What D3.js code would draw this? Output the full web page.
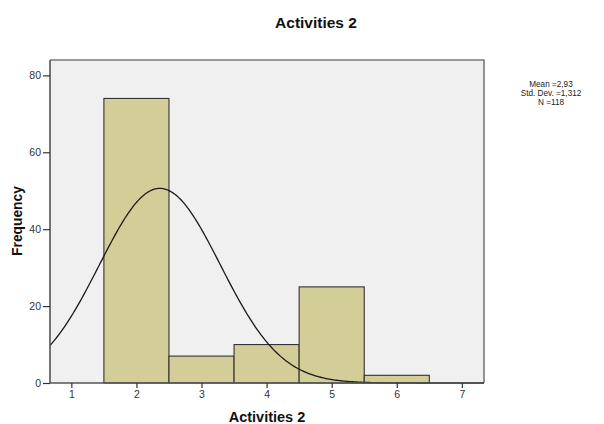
<!DOCTYPE html>
<html><head><meta charset="utf-8">
<script src="https://cdn.jsdelivr.net/npm/d3@7"></script>
<style>body{margin:0;background:#fff}svg{display:block}text{font-family:"Liberation Sans",Arial,sans-serif}</style>
</head><body>
<svg id="c" width="604" height="424"></svg>
<script>
// Data
const binCenters = [2, 3, 4, 5, 6];
const frequencies = [74, 7, 10, 25, 2];
const xTicks = [1, 2, 3, 4, 5, 6, 7];
const yTicks = [0, 20, 40, 60, 80];
const statsLines = ["Mean =2,93", "Std. Dev. =1,312", "N =118"];
// normal curve as drawn (parameters)
const curveMean = 2.36;
const curveSd = 0.93;
const curveN = 118;
const binWidth = 1;

const svg = d3.select("#c");
const L = 50, R = 484, T = 60, B = 383;
const x = d3.scaleLinear().domain([0.672, 7.34]).range([L, R]);
const y = d3.scaleLinear().domain([0, 84]).range([B, T]);

// plot background
svg.append("rect").attr("x", L).attr("y", T).attr("width", R - L).attr("height", B - T).attr("fill", "#f0f0f0");
// top & right frame
svg.append("path").attr("d", `M${L},${T}H${R}V${B}`).attr("fill", "none").attr("stroke", "#7a7a7a").attr("stroke-width", 1.6);

// bars
svg.selectAll("rect.bar").data(binCenters).enter().append("rect").attr("class", "bar")
  .attr("x", d => x(d - binWidth / 2))
  .attr("width", d => x(d + binWidth / 2) - x(d - binWidth / 2))
  .attr("y", (d, i) => y(frequencies[i]))
  .attr("height", (d, i) => y(0) - y(frequencies[i]))
  .attr("fill", "#d3ce97").attr("stroke", "#333").attr("stroke-width", 1.1);

// normal curve
const xs = d3.range(0, 301).map(i => 0.672 + (7.34 - 0.672) * i / 300);
const pdf = v => curveN * binWidth / (curveSd * Math.sqrt(2 * Math.PI)) * Math.exp(-0.5 * ((v - curveMean) / curveSd) ** 2);
svg.append("path").datum(xs)
  .attr("d", d3.line().x(d => x(d)).y(d => y(pdf(d))))
  .attr("fill", "none").attr("stroke", "#1a1a1a").attr("stroke-width", 1.3);

// axes
const xAxis = svg.append("g").attr("transform", `translate(0,${B})`)
  .call(d3.axisBottom(x).tickValues(xTicks).tickFormat(d3.format("d")).tickSize(5).tickPadding(3).tickSizeOuter(0));
const yAxis = svg.append("g").attr("transform", `translate(${L},0)`)
  .call(d3.axisLeft(y).tickValues(yTicks).tickFormat(d3.format("d")).tickSize(7).tickPadding(2).tickSizeOuter(0));
[xAxis, yAxis].forEach(g => {
  g.select(".domain").attr("stroke", "#555").attr("stroke-width", 1.6);
  g.selectAll(".tick line").attr("stroke", "#333").attr("stroke-width", 1.2);
  g.selectAll(".tick text").attr("font-size", 10.5).attr("fill", "#333").attr("font-family", "'Liberation Sans',Arial,sans-serif");
});
xAxis.select(".domain").attr("d", `M${L},0H${R}`);
yAxis.select(".domain").attr("d", `M0,${T}V${B}`);

// title
svg.append("text").attr("x", 316).attr("y", 28).attr("text-anchor", "middle")
  .attr("font-size", 15.5).attr("font-weight", "bold").attr("fill", "#111").text("Activities 2");
// x label
svg.append("text").attr("x", 267).attr("y", 422).attr("text-anchor", "middle")
  .attr("font-size", 14.5).attr("font-weight", "bold").attr("fill", "#111").text("Activities 2");
// y label
svg.append("text").attr("transform", "translate(22,221) rotate(-90)").attr("text-anchor", "middle")
  .attr("font-size", 13.8).attr("font-weight", "bold").attr("fill", "#111").text("Frequency");

// stats
svg.append("g").selectAll("text").data(statsLines).enter().append("text")
  .attr("x", 551).attr("y", (d, i) => 87 + i * 9)
  .attr("text-anchor", "middle").attr("font-size", 8.2).attr("fill", "#222").text(d => d);
</script>
</body></html>
